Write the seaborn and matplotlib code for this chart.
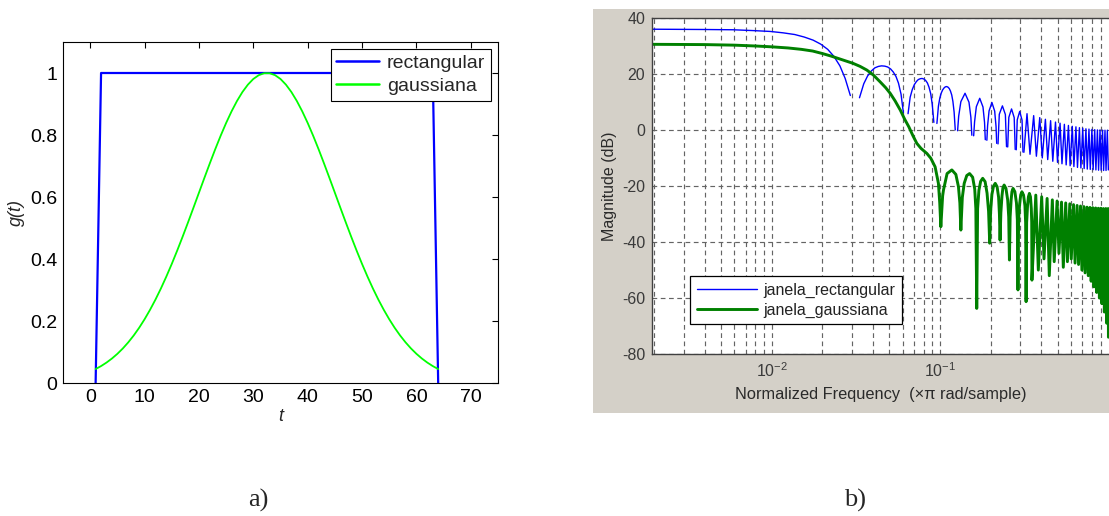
import numpy as np
import pandas as pd
import matplotlib
matplotlib.use("Agg")
import matplotlib.pyplot as plt
import seaborn as sns
from matplotlib.patches import Rectangle
from matplotlib.lines import Line2D
from matplotlib.ticker import FixedLocator, NullFormatter, FixedFormatter

# ---------------- panel a) data ----------------
t_rect = [1, 2, 63, 64]
g_rect = [0, 1, 1, 0]

t_gauss = list(range(1, 65))
g_gauss = [0.0450, 0.0546, 0.0659, 0.0790, 0.0941, 0.1114, 0.1311, 0.1532,
           0.1780, 0.2056, 0.2359, 0.2689, 0.3047, 0.3432, 0.3840, 0.4271,
           0.4720, 0.5184, 0.5658, 0.6137, 0.6615, 0.7085, 0.7543, 0.7979,
           0.8388, 0.8763, 0.9098, 0.9387, 0.9624, 0.9807, 0.9930, 0.9992,
           0.9992, 0.9930, 0.9807, 0.9624, 0.9387, 0.9098, 0.8763, 0.8388,
           0.7979, 0.7543, 0.7085, 0.6615, 0.6137, 0.5658, 0.5184, 0.4720,
           0.4271, 0.3840, 0.3432, 0.3047, 0.2689, 0.2359, 0.2056, 0.1780,
           0.1532, 0.1311, 0.1114, 0.0941, 0.0790, 0.0659, 0.0546, 0.0450]

# ---------------- panel b) data ----------------
# rectangular window response, one list per drawn piece (gaps at exact nulls)
rect_f = [
    [0.00195, 0.0039, 0.0059, 0.0078, 0.0098, 0.0117, 0.0137, 0.0156, 0.0176,
     0.0195, 0.0215, 0.0234, 0.0254, 0.0273, 0.0293],
    [0.0332, 0.0352, 0.0371, 0.0391, 0.0410, 0.0430, 0.0449, 0.0469, 0.0488,
     0.0508, 0.0527, 0.0547, 0.0566, 0.0586, 0.0605],
    [0.0645, 0.0664, 0.0684, 0.0703, 0.0723, 0.0742, 0.0762, 0.0781, 0.0801,
     0.0820, 0.0840, 0.0859, 0.0879, 0.0898, 0.0918],
    [0.0957, 0.0977, 0.0996, 0.1016, 0.1035, 0.1055, 0.1074, 0.1094, 0.1113,
     0.1133, 0.1152, 0.1172, 0.1191, 0.1211, 0.1230],
    [0.1270, 0.1289, 0.1328, 0.1406, 0.1484, 0.1523, 0.1543],
    [0.1582, 0.1602, 0.1641, 0.1719, 0.1797, 0.1836, 0.1855],
    [0.1895, 0.1914, 0.1953, 0.2031, 0.2109, 0.2148, 0.2168],
    [0.2207, 0.2246, 0.2344, 0.2441, 0.2480],
    [0.2520, 0.2559, 0.2656, 0.2754, 0.2793],
    [0.2832, 0.2871, 0.2969, 0.3066, 0.3105],
    [0.3145, 0.3281, 0.3418, 0.3594, 0.3730, 0.3906, 0.4043, 0.4219, 0.4355,
     0.4531, 0.4668, 0.4844, 0.4980, 0.5156, 0.5293, 0.5469, 0.5605, 0.5781,
     0.5918, 0.6094, 0.6230, 0.6406, 0.6543, 0.6719, 0.6855, 0.7031, 0.7168,
     0.7344, 0.7480, 0.7656, 0.7793, 0.7969, 0.8105, 0.8281, 0.8418, 0.8594,
     0.8730, 0.8906, 0.9043, 0.9219, 0.9355, 0.9531, 0.9668, 0.9844, 0.9980],
]
rect_db = [
    [36.1, 36.0, 35.9, 35.6, 35.3, 34.8, 34.2, 33.3, 32.2, 30.8, 28.9, 26.4,
     23.0, 18.5, 12.4],
    [11.6, 16.6, 19.4, 21.2, 22.3, 22.8, 23.0, 22.9, 22.6, 21.9, 20.8, 19.2,
     16.8, 12.9, 6.3],
    [5.9, 11.8, 14.6, 16.3, 17.4, 18.1, 18.4, 18.5, 18.3, 17.8, 16.9, 15.4,
     13.1, 9.2, 2.8],
    [2.4, 8.6, 11.5, 13.3, 14.4, 15.1, 15.5, 15.6, 15.4, 14.9, 14.0, 12.6,
     10.3, 6.5, 0.1],
    [-0.2, 5.0, 10.2, 13.2, 10.0, 4.6, -1.8],
    [-2.0, 3.0, 8.4, 11.4, 8.3, 2.8, -3.4],
    [-3.6, 1.6, 6.9, 9.9, 6.8, 1.4, -4.7],
    [-4.9, 5.7, 8.7, 5.6, -5.9],
    [-6.0, 4.6, 7.6, 4.5, -6.9],
    [-7.0, 3.7, 6.7, 3.6, -7.8],
    [-7.9, 5.9, -8.6, 5.2, -9.3, 4.5, -9.9, 3.9, -10.5, 3.4, -11.1, 2.9, -11.5,
     2.5, -12.0, 2.1, -12.4, 1.7, -12.7, 1.4, -13.0, 1.2, -13.3, 0.9, -13.5,
     0.7, -13.7, 0.5, -13.9, 0.4, -14.0, 0.3, -14.1, 0.2, -14.2, 0.1, -14.3,
     0.1, -14.3, 0.0, -14.4, 0.0, -14.4, 0.0, -14.2],
]

gauss_f = [0.00195, 0.0040, 0.0060, 0.0080, 0.0100, 0.0125, 0.0150, 0.0175,
           0.0200, 0.0225, 0.0250, 0.0275, 0.0304, 0.0335, 0.0367, 0.0400,
           0.0440, 0.0475, 0.0505, 0.0540, 0.0580, 0.0615, 0.0652, 0.0690,
           0.0727, 0.0770, 0.0834, 0.0880, 0.0934, 0.0977, 0.0995, 0.1010,
           0.1035, 0.1047, 0.1100, 0.1174, 0.1240, 0.1285, 0.1310, 0.1328,
           0.1355, 0.1390, 0.1440, 0.1496, 0.1560, 0.1605, 0.1630, 0.1650,
           0.1670, 0.1700, 0.1740, 0.1790, 0.1850, 0.1900, 0.1940, 0.1970,
           0.1995, 0.2030, 0.2075, 0.2125, 0.2180, 0.2225, 0.2250, 0.2270,
           0.2295, 0.2330, 0.2360, 0.2400, 0.2460, 0.2520, 0.2555, 0.2580,
           0.2605, 0.2640, 0.2670, 0.2710, 0.2780, 0.2840, 0.2875, 0.2900,
           0.2925, 0.2965, 0.3010, 0.3060, 0.3130, 0.3190, 0.3220, 0.3240,
           0.3265, 0.3305, 0.3345, 0.3390, 0.3440, 0.3480, 0.3500, 0.3510,
           0.3700, 0.3830, 0.4010, 0.4140, 0.4320, 0.4450, 0.4640, 0.4760,
           0.4950, 0.5080, 0.5260, 0.5390, 0.5570, 0.5700, 0.5890, 0.6010,
           0.6200, 0.6330, 0.6510, 0.6640, 0.6820, 0.6950, 0.7140, 0.7260,
           0.7450, 0.7580, 0.7760, 0.7890, 0.8070, 0.8200, 0.8390, 0.8510,
           0.8700, 0.8830, 0.9010, 0.9140, 0.9320, 0.9450, 0.9640, 0.9760,
           0.9950, 0.9990]
gauss_db = [30.7, 30.6, 30.4, 30.1, 29.8, 29.4, 28.9, 28.3, 27.4, 26.5, 25.6,
            24.8, 23.9, 22.8, 21.5, 19.8, 17.3, 15.2, 13.2, 10.5, 7.2, 4.0,
            1.2, -2.0, -4.7, -6.5, -8.3, -10.0, -13.1, -19.0, -26.0, -34.5,
            -23.5, -21.4, -15.5, -14.2, -15.8, -20.2, -26.0, -35.7,
            -24.0, -19.0, -16.2, -15.5, -16.8, -21.0, -28.0, -63.7,
            -28.0, -21.5, -18.3, -17.2, -18.4, -22.5, -29.0, -40.4,
            -29.0, -23.0, -20.0, -19.0, -20.2, -24.0, -30.0, -39.3,
            -29.5, -23.5, -20.6, -19.6, -20.8, -25.0, -31.0, -46.4,
            -31.0, -25.0, -22.0, -20.8, -22.0, -26.0, -32.0, -57.1,
            -32.0, -26.5, -23.2, -22.0, -23.2, -27.0, -33.0, -61.3,
            -33.0, -27.0, -23.8, -22.6, -23.8, -28.0, -33.0, -53.6,
            -23.2, -50.0, -23.8, -46.0, -24.4, -52.0, -24.9, -47.0,
            -25.3, -44.0, -25.7, -49.0, -26.0, -47.0, -26.3, -46.0,
            -26.6, -47.5, -26.9, -48.0, -27.1, -50.0, -27.3, -51.0,
            -27.5, -52.0, -27.6, -54.0, -27.7, -56.0, -27.8, -58.0,
            -27.9, -60.0, -27.9, -62.0, -28.0, -65.0, -28.0, -69.0,
            -28.0, -74.0]

x_ticks_a = [0, 10, 20, 30, 40, 50, 60, 70]
y_ticks_a = [0, 0.2, 0.4, 0.6, 0.8, 1]
y_tick_labels_a = ["0", "0.2", "0.4", "0.6", "0.8", "1"]
y_ticks_b = [-80, -60, -40, -20, 0, 20, 40]
x_ticks_b = [0.01, 0.1]
x_tick_labels_b = [r"$\mathregular{10^{-2}}$", r"$\mathregular{10^{-1}}$"]

# ---------------- figure ----------------
sns.set_theme(style="white")
plt.rcParams["font.family"] = ["Liberation Sans", "DejaVu Sans"]
plt.rcParams["axes.unicode_minus"] = False
plt.rcParams["mathtext.fontset"] = "custom"
plt.rcParams["mathtext.rm"] = "Liberation Sans"

W, H = 1109, 516
fig = plt.figure(figsize=(W / 100, H / 100), dpi=100)
fig.patch.set_facecolor("white")

def fx(px):
    return px / W

def fy(py):
    return 1 - py / H

# grey screenshot background for panel b
bg = Rectangle((fx(593), fy(413)), 1 - fx(593), fy(9) - fy(413),
               transform=fig.transFigure, facecolor="#d4d0c8",
               edgecolor="none", zorder=-5)
fig.patches.append(bg)

# ---- panel a
axa = fig.add_axes([fx(63), fy(383), fx(498) - fx(63), fy(42) - fy(383)])
df_rect = pd.DataFrame({"t": t_rect, "g": g_rect})
df_gauss = pd.DataFrame({"t": t_gauss, "g": g_gauss})
sns.lineplot(data=df_rect, x="t", y="g", ax=axa, color="#0000ff", lw=1.6,
             sort=False, estimator=None, label="rectangular")
sns.lineplot(data=df_gauss, x="t", y="g", ax=axa, color="#00ff00", lw=1.3,
             sort=False, estimator=None, label="gaussiana")
axa.set_xlim(-5, 75)
axa.set_ylim(0, 1.1)
axa.set_xticks(x_ticks_a)
axa.set_yticks(y_ticks_a)
axa.set_yticklabels(y_tick_labels_a)
axa.tick_params(direction="in", length=4, width=0.8, color="black",
                top=True, right=True, labelsize=14, pad=4, labelcolor="black")
for s in axa.spines.values():
    s.set_visible(True)
    s.set_color("black")
    s.set_linewidth(0.8)
axa.set_xlabel("t", fontsize=13, style="italic", labelpad=2)
axa.set_ylabel("g(t)", fontsize=13, style="italic", labelpad=4)
lga = axa.legend(loc="upper right", fontsize=14, frameon=True, fancybox=False,
                 framealpha=1, edgecolor="black", handlelength=2.2,
                 handletextpad=0.4, borderaxespad=0.35, borderpad=0.3,
                 labelspacing=0.25)
lga.get_frame().set_linewidth(0.8)
for ln in lga.get_lines():
    ln.set_linewidth(1.8)

# ---- panel b
axb = fig.add_axes([fx(652.3), fy(354), fx(1108.5) - fx(652.3), fy(18.3) - fy(354)])
axb.set_facecolor("white")
rows = []
for i, (fs, ds) in enumerate(zip(rect_f, rect_db)):
    for f_, d_ in zip(fs, ds):
        rows.append({"f": f_, "db": d_, "seg": i})
df_b_rect = pd.DataFrame(rows)
df_b_gauss = pd.DataFrame({"f": gauss_f, "db": gauss_db})
sns.lineplot(data=df_b_rect, x="f", y="db", units="seg", estimator=None,
             sort=False, ax=axb, color="#0000ff", lw=1.0, legend=False)
sns.lineplot(data=df_b_gauss, x="f", y="db", estimator=None, sort=False,
             ax=axb, color="#008000", lw=2.1, legend=False)
axb.set_xscale("log")
axb.set_xlim(1 / 512, 1.0)
axb.set_ylim(-80, 40)
axb.set_yticks(y_ticks_b)
axb.xaxis.set_major_locator(FixedLocator(x_ticks_b))
axb.xaxis.set_major_formatter(FixedFormatter(x_tick_labels_b))
minor = [m * 10.0 ** e for e in (-3, -2, -1) for m in range(2, 10)]
axb.xaxis.set_minor_locator(FixedLocator(minor))
axb.xaxis.set_minor_formatter(NullFormatter())
axb.grid(True, which="major", axis="both", color="#646464", lw=0.85,
         linestyle=(0, (4, 3)))
axb.grid(True, which="minor", axis="x", color="#646464", lw=0.85,
         linestyle=(0, (4, 3)))
axb.set_axisbelow(True)
axb.tick_params(which="both", direction="in", color="#404040", width=0.8,
                labelsize=11.5, labelcolor="#3a3a3a", pad=5)
axb.tick_params(which="major", length=4)
axb.tick_params(which="minor", length=2)
for name, s in axb.spines.items():
    s.set_color("#404040")
    s.set_linewidth(1.0)
axb.spines["right"].set_visible(False)
axb.set_xlabel("Normalized Frequency  (\u00d7\u03c0 rad/sample)", fontsize=11.8,
               color="#2a2a2a", labelpad=5)
axb.set_ylabel("Magnitude (dB)", fontsize=11.5, color="#2a2a2a", labelpad=4)
handles = [Line2D([], [], color="#0000ff", lw=1.0),
           Line2D([], [], color="#008000", lw=2.1)]
lgb = axb.legend(handles, ["janela_rectangular", "janela_gaussiana"],
                 loc="lower left", bbox_to_anchor=(0.083, 0.089), fontsize=11.5,
                 frameon=True, fancybox=False, framealpha=1, edgecolor="black",
                 handlelength=3.8, handletextpad=0.4, borderaxespad=0,
                 borderpad=0.4, labelspacing=0.3)
lgb.get_frame().set_linewidth(0.9)
for txt in lgb.get_texts():
    txt.set_color("#222222")

# captions
fig.text(fx(258), fy(500), "a)", fontsize=19, family=["Liberation Serif"],
         ha="center", va="center")
fig.text(fx(855), fy(500), "b)", fontsize=19, family=["Liberation Serif"],
         ha="center", va="center")

fig.savefig("out.png", dpi=100, facecolor="white")
